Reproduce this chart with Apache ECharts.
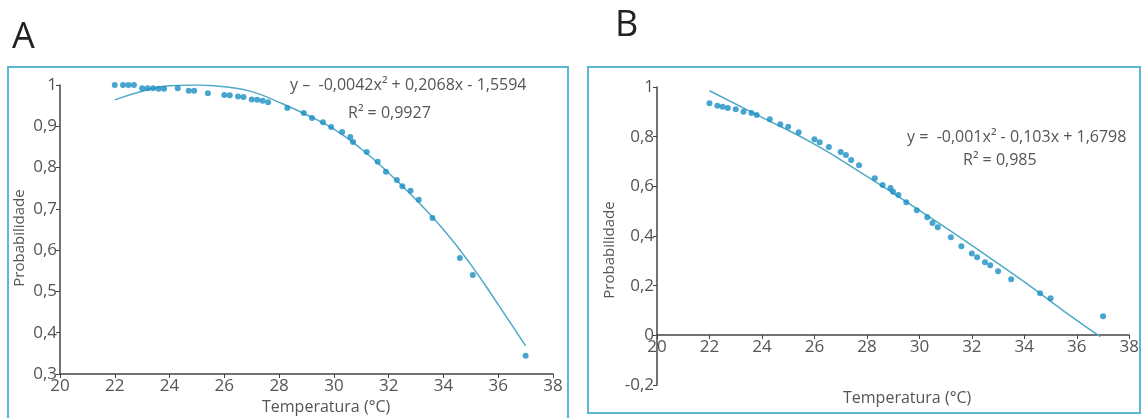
<!DOCTYPE html>
<html>
<head>
<meta charset="utf-8">
<script src="https://cdn.jsdelivr.net/npm/echarts@6/dist/echarts.min.js"></script>
<style>
  html, body { margin: 0; padding: 0; background: #fff; }
  #chart { width: 1142px; height: 418px; }
</style>
</head>
<body>
<div id="chart"></div>
<script>
// painel A - pontos observados
var tempA = [22.0, 22.3, 22.5, 22.7, 23.0, 23.2, 23.4, 23.6, 23.8, 24.3, 24.7, 24.9, 25.4, 26.0, 26.2,
  26.5, 26.7, 27.0, 27.2, 27.4, 27.6, 28.3, 28.9, 29.2, 29.6, 29.9, 30.3, 30.6, 30.7, 31.2, 31.6,
  31.9, 32.3, 32.5, 32.8, 33.1, 33.6, 34.6, 35.07, 37.0];
var probA = [1.0, 1.0, 1.0, 1.0, 0.992, 0.992, 0.992, 0.991, 0.991, 0.992, 0.986, 0.986, 0.98, 0.976, 0.975,
  0.972, 0.971, 0.965, 0.964, 0.962, 0.958, 0.944, 0.932, 0.92, 0.91, 0.898, 0.886, 0.874, 0.862, 0.838, 0.814,
  0.79, 0.77, 0.755, 0.744, 0.722, 0.678, 0.581, 0.54, 0.344];
// painel A - curva ajustada
var fitTempA = [22, 23, 24, 25, 26, 27, 28, 29, 30, 31, 32, 33, 34, 35, 36, 37];
var fitProbA = [0.964, 0.985, 0.998, 1.0, 0.996, 0.984, 0.958, 0.928, 0.893, 0.845, 0.787, 0.722, 0.65, 0.565, 0.468, 0.368];

// painel B - pontos observados
var tempB = [22.0, 22.3, 22.5, 22.7, 23.0, 23.3, 23.6, 23.8, 24.3, 24.7, 25.0, 25.4, 26.0, 26.2, 26.55,
  27.0, 27.2, 27.4, 27.7, 28.3, 28.6, 28.9, 29.0, 29.2, 29.5, 29.9, 30.3, 30.5, 30.7, 31.2, 31.6,
  32.0, 32.2, 32.5, 32.7, 33.0, 33.5, 34.6, 35.0, 37.0];
var probB = [0.935, 0.925, 0.92, 0.915, 0.91, 0.9, 0.895, 0.887, 0.87, 0.85, 0.84, 0.818, 0.79, 0.778, 0.758,
  0.738, 0.726, 0.706, 0.685, 0.633, 0.605, 0.593, 0.578, 0.565, 0.536, 0.504, 0.476, 0.452, 0.435, 0.395, 0.359,
  0.33, 0.314, 0.294, 0.282, 0.258, 0.226, 0.169, 0.149, 0.077];
var fitTempB = [22, 24, 26, 28, 30, 32, 34, 36, 36.9];
var fitProbB = [0.985, 0.878, 0.77, 0.64, 0.503, 0.362, 0.215, 0.06, -0.005];

function pairs(xs, ys) {
  return xs.map(function (x, i) { return [x, ys[i]]; });
}
function virgula(v) {
  return String(Math.round(v * 100) / 100).replace('.', ',');
}

var txt = '#555';
var axisColor = '#444';
var dotColor = '#1a8ec3';
var lineColor = '#4fa9c9';
var boxColor = '#5cb9d6';
var font = 'Open Sans';

function xAxisCfg(gridIndex, offset) {
  return {
    type: 'value', gridIndex: gridIndex, min: 20, max: 38, interval: 2,
    position: 'bottom', offset: offset,
    axisLine: { show: true, onZero: false, lineStyle: { color: axisColor, width: 1.5 } },
    axisTick: { show: true, length: 4, lineStyle: { color: axisColor } },
    axisLabel: { color: txt, fontSize: 17, fontFamily: font, margin: 4 },
    splitLine: { show: false }
  };
}
function yAxisCfg(gridIndex, min, max, interval) {
  return {
    type: 'value', gridIndex: gridIndex, min: min, max: max, interval: interval,
    axisLine: { show: true, lineStyle: { color: axisColor, width: 1.5 } },
    axisTick: { show: true, length: 4, lineStyle: { color: axisColor } },
    axisLabel: { color: txt, fontSize: 17, fontFamily: font, margin: 3, formatter: virgula },
    splitLine: { show: false }
  };
}

var chart = echarts.init(document.getElementById('chart'));
chart.setOption({
  animation: false,
  textStyle: { fontFamily: font },
  grid: [
    { left: 60, top: 85, width: 493, height: 289 },
    { left: 657, top: 87, width: 476, height: 298 }
  ],
  // eixo x do painel B fica sobre y = 0 (50 px acima da base do grid)
  xAxis: [xAxisCfg(0, 0), xAxisCfg(1, -50)],
  yAxis: [yAxisCfg(0, 0.3, 1, 0.1), yAxisCfg(1, -0.2, 1, 0.2)],
  series: [
    { type: 'line', xAxisIndex: 0, yAxisIndex: 0, data: pairs(fitTempA, fitProbA), smooth: true,
      showSymbol: false, lineStyle: { color: lineColor, width: 1.5 }, z: 1 },
    { type: 'scatter', xAxisIndex: 0, yAxisIndex: 0, data: pairs(tempA, probA), symbolSize: 6,
      itemStyle: { color: dotColor }, z: 2 },
    { type: 'line', xAxisIndex: 1, yAxisIndex: 1, data: pairs(fitTempB, fitProbB), smooth: true,
      showSymbol: false, lineStyle: { color: lineColor, width: 1.5 }, z: 1 },
    { type: 'scatter', xAxisIndex: 1, yAxisIndex: 1, data: pairs(tempB, probB), symbolSize: 6,
      itemStyle: { color: dotColor }, z: 2 }
  ],
  graphic: [
    { type: 'rect', shape: { x: 8, y: 67, width: 560, height: 360 }, style: { fill: 'none', stroke: boxColor, lineWidth: 2 } },
    { type: 'rect', shape: { x: 588, y: 67, width: 552, height: 346 }, style: { fill: 'none', stroke: boxColor, lineWidth: 2 } },
    { type: 'text', left: 12, top: 20, style: { text: 'A', fontSize: 36, fill: '#222', fontFamily: font } },
    { type: 'text', left: 615, top: 8, style: { text: 'B', fontSize: 36, fill: '#222', fontFamily: font } },
    { type: 'text', left: 290, top: 77, style: { text: 'y –  -0,0042x² + 0,2068x - 1,5594', fontSize: 16, fill: txt, fontFamily: font } },
    { type: 'text', left: 348, top: 105, style: { text: 'R² = 0,9927', fontSize: 16, fill: txt, fontFamily: font } },
    { type: 'text', left: 907, top: 129, style: { text: 'y =  -0,001x² - 0,103x + 1,6798', fontSize: 16, fill: txt, fontFamily: font } },
    { type: 'text', left: 963, top: 152, style: { text: 'R² = 0,985', fontSize: 16, fill: txt, fontFamily: font } },
    { type: 'text', left: 262, top: 399, style: { text: 'Temperatura (°C)', fontSize: 16, fill: txt, fontFamily: font } },
    { type: 'text', left: 843, top: 390, style: { text: 'Temperatura (°C)', fontSize: 16, fill: txt, fontFamily: font } },
    { type: 'text', x: 20, y: 238, rotation: Math.PI / 2, style: { text: 'Probabilidade', fontSize: 15, fill: txt, fontFamily: font, align: 'center', verticalAlign: 'middle' } },
    { type: 'text', x: 610, y: 250, rotation: Math.PI / 2, style: { text: 'Probabilidade', fontSize: 15, fill: txt, fontFamily: font, align: 'center', verticalAlign: 'middle' } }
  ]
});
window.onresize = function () { chart.resize(); };
</script>
</body>
</html>
